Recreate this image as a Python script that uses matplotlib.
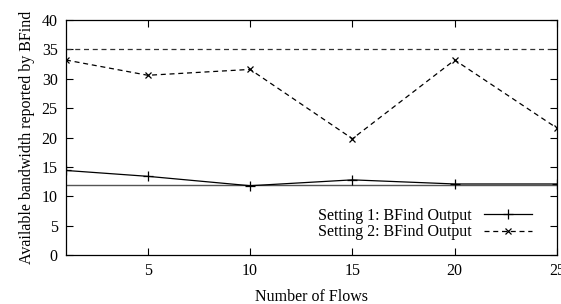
import matplotlib
matplotlib.use("Agg")
import matplotlib.pyplot as plt

flows = [1, 5, 10, 15, 20, 25]
setting1 = [14.4, 13.4, 11.8, 12.8, 12.1, 12.1]
setting2 = [33.2, 30.6, 31.6, 19.8, 33.2, 21.6]
ref1 = 12
ref2 = 35

plt.rcParams['font.family'] = ['Liberation Serif', 'DejaVu Serif']
plt.rcParams['font.size'] = 11.5

fig = plt.figure(figsize=(5.61, 3.04), dpi=100)
ax = fig.add_axes([0.1176, 0.161, 0.8753, 0.773])

ax.axhline(ref1, color='#555555', lw=1.0)
ax.axhline(ref2, color='#333333', lw=0.9, ls=(0, (4, 3)))
ax.plot(flows, setting1, color='black', lw=0.9, marker='+', ms=7, mew=0.9,
        label='Setting 1: BFind Output')
ax.plot(flows, setting2, color='black', lw=0.9, ls=(0, (4, 3)), marker='x', ms=5, mew=0.9,
        label='Setting 2: BFind Output')

ax.set_xlim(1, 25)
ax.set_ylim(0, 40)
ax.set_xticks([5, 10, 15, 20, 25])
ax.set_yticks(range(0, 41, 5))
ax.tick_params(direction='in', top=True, right=True, length=5, width=0.8, pad=6)
for s in ax.spines.values():
    s.set_linewidth(0.9)

ax.set_xlabel('Number of Flows', labelpad=7)
ax.set_ylabel('Available bandwidth reported by BFind', labelpad=5)

ax.legend(loc='lower right', bbox_to_anchor=(0.962, 0.035), borderaxespad=0,
          frameon=False, markerfirst=False, handlelength=3.0,
          labelspacing=0.05, handletextpad=0.8)

fig.savefig('out.png', dpi=100)
